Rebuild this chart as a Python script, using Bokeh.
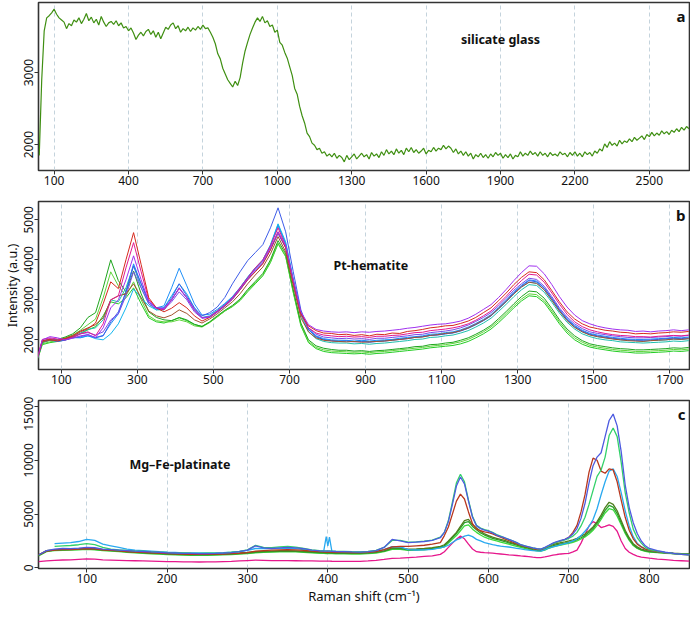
from bokeh.plotting import figure
from bokeh.models import Range1d, FixedTicker, Label
from bokeh.layouts import column
from bokeh.embed import file_html
from bokeh.resources import INLINE

FONT = "Noto Sans"
nan = float("nan")

# ---------------- panel a : silicate glass ----------------
A_X = list(range(40, 2670, 10))
A_Y = [1850, 2900, 3580, 3760, 3790, 3830, 3880, 3810, 3760, 3730,
       3700, 3610, 3680, 3650, 3730, 3700, 3760, 3680, 3740, 3820,
       3720, 3770, 3690, 3740, 3660, 3780, 3700, 3640, 3690, 3710,
       3670, 3720, 3650, 3690, 3620, 3640, 3580, 3620, 3550, 3460,
       3520, 3560, 3510, 3570, 3600, 3530, 3580, 3490, 3560, 3470,
       3550, 3630, 3600, 3660, 3690, 3610, 3650, 3560, 3610, 3580,
       3630, 3570, 3620, 3590, 3640, 3600, 3660, 3610, 3620, 3560,
       3490, 3400, 3260, 3190, 3060, 2980, 2900, 2850, 2800, 2880,
       2820, 2930, 3130, 3300, 3420, 3530, 3620, 3700, 3760, 3710,
       3780, 3690, 3720, 3640, 3660, 3560, 3590, 3420, 3380, 3280,
       3200, 3080, 2960, 2780, 2700, 2530, 2400, 2300, 2160, 2110,
       2020, 1990, 1930, 1950, 1880, 1900, 1840, 1870, 1830, 1880,
       1810, 1850, 1820, 1760, 1850, 1790, 1830, 1870, 1800, 1840,
       1880, 1830, 1860, 1800, 1890, 1840, 1870, 1820, 1900, 1850,
       1930, 1870, 1910, 1860, 1940, 1880, 1920, 1860, 1950, 1900,
       1960, 1890, 1930, 1880, 1910, 1950, 1870, 1920, 1900, 1960,
       1910, 1950, 1930, 1990, 1940, 1980, 1950, 1890, 1940, 1870,
       1910, 1850, 1900, 1840, 1880, 1800, 1860, 1830, 1880, 1820,
       1860, 1810, 1870, 1830, 1890, 1850, 1880, 1810, 1860, 1820,
       1870, 1800, 1850, 1830, 1900, 1840, 1880, 1850, 1910, 1860,
       1890, 1840, 1900, 1850, 1880, 1830, 1890, 1850, 1870, 1840,
       1900, 1860, 1880, 1830, 1890, 1850, 1900, 1840, 1880, 1830,
       1900, 1860, 1890, 1840, 1910, 1880, 1940, 1910, 2010, 1960,
       2040, 1990, 2020, 1980, 2060, 2010, 2050, 2030, 2080, 2040,
       2100, 2060, 2090, 2120, 2070, 2140, 2110, 2170, 2120, 2160,
       2130, 2190, 2150, 2180, 2140, 2200, 2170, 2220, 2180, 2240,
       2200, 2250, 2220]
A_XTICKS = [100, 400, 700, 1000, 1300, 1600, 1900, 2200, 2500]
A_YTICKS = [2000, 3000]

# ---------------- panel b : Pt-hematite ----------------
B_X = list(range(30, 1770, 20))
B_RED = [1300, 1980, 2010, 1970, 2030, 2090, 2200, 2280, 2420, 2900, 3450, 3280, 4000, 4680, 3880, 3050, 2800, 2700, 2790, 2930,
         2800, 2600, 2470, 2560, 2700, 2850, 3020, 3250, 3500, 3700, 3900, 4250, 4700, 4300, 3450, 2650, 2350, 2230, 2170, 2160,
         2130, 2140, 2110, 2130, 2100, 2140, 2130, 2170, 2160, 2210, 2230, 2260, 2300, 2320, 2350, 2360, 2410, 2470, 2560, 2680,
         2800, 2980, 3170, 3380, 3560, 3700, 3680, 3500, 3230, 2950, 2700, 2520, 2400, 2320, 2280, 2240, 2220, 2190, 2180, 2150,
         2160, 2150, 2170, 2180, 2200, 2190, 2210]
B_BROWN = [1300, 1950, 1990, 2000, 2040, 2110, 2220, 2300, 2380, 2550, 3000, 3100, 3150, 3400, 3050, 2720, 2600, 2550, 2620, 2750,
           2660, 2500, 2420, 2520, 2650, 2800, 2950, 3150, 3400, 3620, 3820, 4150, 4580, 4200, 3350, 2550, 2200, 2050, 1990, 1970,
           1960, 1950, 1960, 1940, 1950, 1960, 1970, 1990, 2010, 2030, 2060, 2070, 2110, 2130, 2160, 2180, 2230, 2300, 2390, 2490,
           2610, 2780, 2960, 3150, 3320, 3440, 3410, 3250, 2990, 2720, 2480, 2310, 2200, 2120, 2080, 2050, 2020, 2000, 1980, 1970,
           1960, 1980, 1990, 2000, 2020, 2010, 2030]
B_MAGENTA = [1300, 2010, 2050, 2020, 2000, 2060, 2150, 2200, 2100, 2400, 3000, 3100, 3800, 4430, 3700, 3000, 2800, 2750, 3000, 3280,
             3050, 2750, 2550, 2580, 2720, 2870, 3050, 3300, 3550, 3800, 4000, 4350, 4800, 4350, 3450, 2650, 2300, 2170, 2120, 2100,
             2080, 2090, 2070, 2080, 2060, 2090, 2090, 2110, 2120, 2150, 2180, 2190, 2230, 2250, 2270, 2300, 2340, 2400, 2490, 2600,
             2720, 2900, 3090, 3300, 3480, 3640, 3620, 3440, 3170, 2890, 2640, 2450, 2330, 2250, 2200, 2160, 2130, 2110, 2100, 2080,
             2080, 2070, 2090, 2100, 2110, 2100, 2120]
B_PURPLE = [1300, 2000, 2080, 2050, 2000, 2040, 2100, 2130, 2060, 2300, 2800, 3000, 3500, 4100, 3500, 2950, 2800, 2780, 3000, 3300,
            3050, 2750, 2550, 2570, 2700, 2860, 3030, 3270, 3520, 3760, 3950, 4300, 4700, 4350, 3500, 2700, 2380, 2260, 2220, 2200,
            2190, 2200, 2180, 2200, 2190, 2210, 2220, 2240, 2260, 2290, 2310, 2340, 2370, 2390, 2400, 2430, 2470, 2540, 2640, 2760,
            2880, 3060, 3260, 3480, 3680, 3850, 3840, 3650, 3380, 3080, 2820, 2620, 2480, 2400, 2340, 2300, 2270, 2250, 2240, 2210,
            2220, 2200, 2220, 2230, 2250, 2230, 2250]
B_VIOLET = [1300, 1970, 2030, 1990, 2020, 2080, 2150, 2180, 2120, 2200, 2500, 2650, 3100, 3700, 3300, 2900, 2780, 2760, 2950, 3200,
            3000, 2700, 2540, 2560, 2690, 2840, 3010, 3250, 3500, 3720, 3920, 4250, 4650, 4300, 3450, 2650, 2300, 2140, 2070, 2050,
            2030, 2040, 2020, 2030, 2010, 2040, 2040, 2060, 2080, 2100, 2130, 2140, 2180, 2200, 2220, 2250, 2300, 2370, 2460, 2560,
            2680, 2850, 3040, 3240, 3400, 3540, 3510, 3340, 3080, 2800, 2570, 2400, 2280, 2200, 2160, 2130, 2100, 2080, 2060, 2050,
            2050, 2060, 2070, 2080, 2100, 2090, 2110]
B_ROYAL = [1300, 1950, 2000, 1960, 1990, 2050, 2080, 2130, 2050, 2100, 2450, 2700, 3200, 3850, 3400, 2950, 2800, 2800, 3050, 3400,
           3100, 2800, 2600, 2680, 2820, 3060, 3400, 3700, 3980, 4180, 4380, 4800, 5300, 4700, 3700, 2750, 2250, 2080, 2000, 1980,
           1960, 1970, 1950, 1960, 1940, 1960, 1970, 1990, 2010, 2030, 2060, 2080, 2110, 2120, 2150, 2170, 2220, 2290, 2380, 2480,
           2600, 2780, 2970, 3170, 3340, 3480, 3450, 3290, 3030, 2750, 2510, 2340, 2220, 2140, 2100, 2070, 2040, 2020, 2000, 1990,
           1990, 2000, 2010, 2030, 2040, 2030, 2050]
B_DODGER = [1300, 1960, 2010, 1980, 2000, 2060, 2050, 2100, 2060, 2110, 2400, 2650, 3200, 3900, 3400, 2950, 2800, 2850, 3300, 3790,
            3350, 2900, 2620, 2640, 2760, 2910, 3080, 3310, 3560, 3790, 3990, 4350, 4850, 4400, 3500, 2680, 2270, 2100, 2030, 2000,
            1990, 1990, 1970, 1990, 1970, 1990, 2000, 2010, 2040, 2060, 2080, 2100, 2140, 2150, 2180, 2200, 2250, 2320, 2410, 2510,
            2630, 2810, 2990, 3200, 3360, 3500, 3470, 3300, 3040, 2760, 2530, 2360, 2240, 2160, 2120, 2090, 2060, 2040, 2020, 2010,
            2010, 2020, 2030, 2040, 2060, 2050, 2070]
B_SKY = [1300, 1960, 2020, 1990, 2010, 2050, 2060, 2100, 2030, 2000, 2150, 2400, 2800, 3270, 3050, 2850, 2750, 2800, 3100, 3400,
         3150, 2800, 2560, 2600, 2730, 2890, 3070, 3300, 3570, 3800, 4000, 4380, 4900, 4450, 3520, 2680, 2260, 2080, 2010, 1980,
         1970, 1980, 1960, 1970, 1950, 1970, 1980, 2000, 2020, 2040, 2070, 2080, 2110, 2130, 2150, 2180, 2230, 2290, 2380, 2480,
         2600, 2770, 2950, 3150, 3320, 3440, 3420, 3250, 2990, 2720, 2490, 2320, 2200, 2130, 2080, 2050, 2030, 2000, 1990, 1980,
         1970, 1980, 1990, 2000, 2020, 2010, 2030]
B_TURQ = [1300, 1940, 1990, 1960, 2010, 2080, 2170, 2260, 2300, 2500, 3000, 2950, 3300, 3850, 3300, 2900, 2750, 2750, 3000, 3300,
          3050, 2750, 2550, 2590, 2720, 2880, 3050, 3280, 3540, 3780, 3980, 4350, 4880, 4400, 3450, 2620, 2200, 2030, 1960, 1930,
          1920, 1920, 1900, 1910, 1890, 1910, 1920, 1940, 1960, 1980, 2010, 2020, 2060, 2070, 2100, 2120, 2170, 2230, 2320, 2420,
          2540, 2710, 2890, 3080, 3250, 3380, 3360, 3190, 2940, 2670, 2440, 2270, 2150, 2080, 2030, 2000, 1980, 1950, 1940, 1930,
          1920, 1930, 1940, 1950, 1970, 1960, 1980]
B_GREEN = [1300, 1930, 1990, 2010, 2070, 2150, 2300, 2560, 2680, 3300, 4000, 3480, 3200, 3720, 3150, 2700, 2560, 2500, 2480, 2560,
           2500, 2390, 2330, 2450, 2600, 2740, 2860, 3020, 3260, 3460, 3660, 4000, 4480, 4150, 3250, 2420, 2000, 1850, 1790, 1760,
           1740, 1740, 1720, 1730, 1710, 1730, 1740, 1760, 1780, 1800, 1830, 1840, 1880, 1890, 1920, 1940, 1990, 2050, 2140, 2240,
           2360, 2530, 2710, 2900, 3080, 3220, 3200, 3040, 2780, 2500, 2270, 2100, 1980, 1900, 1860, 1830, 1800, 1780, 1770, 1750,
           1750, 1760, 1770, 1780, 1800, 1790, 1810]
B_LIME = [1300, 1900, 1950, 1980, 2050, 2120, 2240, 2380, 2520, 3050, 3700, 3350, 3100, 3450, 3000, 2600, 2480, 2450, 2450, 2500,
          2450, 2350, 2320, 2430, 2570, 2720, 2840, 3000, 3230, 3430, 3630, 3960, 4420, 4100, 3200, 2380, 1960, 1810, 1750, 1720,
          1710, 1700, 1690, 1700, 1680, 1700, 1710, 1730, 1750, 1770, 1790, 1810, 1840, 1860, 1880, 1910, 1950, 2010, 2100, 2200,
          2320, 2480, 2660, 2850, 3020, 3150, 3130, 2980, 2720, 2450, 2220, 2050, 1940, 1860, 1820, 1790, 1760, 1740, 1730, 1710,
          1710, 1720, 1730, 1740, 1760, 1750, 1770]
B_GREEN3 = [1300, 1880, 1930, 1960, 2000, 2060, 2150, 2250, 2330, 2600, 2950, 2900, 3050, 3300, 2900, 2550, 2450, 2420, 2480, 2550,
            2480, 2380, 2340, 2440, 2580, 2720, 2830, 2980, 3200, 3400, 3600, 3930, 4400, 4080, 3180, 2350, 1930, 1780, 1710, 1680,
            1670, 1660, 1650, 1660, 1640, 1660, 1670, 1690, 1710, 1730, 1750, 1770, 1800, 1820, 1840, 1860, 1900, 1960, 2050, 2150,
            2270, 2430, 2610, 2800, 2970, 3100, 3080, 2930, 2670, 2400, 2170, 2000, 1890, 1820, 1780, 1750, 1720, 1700, 1690, 1670,
            1670, 1680, 1690, 1700, 1720, 1710, 1730]
B_XTICKS = [100, 300, 500, 700, 900, 1100, 1300, 1500, 1700]
B_YTICKS = [2000, 3000, 4000, 5000]

# ---------------- panel c : Mg-Fe-platinate ----------------
C_X = (list(range(40, 400, 10)) + [395, 398, 400, 402, 405] + list(range(410, 550, 10))
       + list(range(545, 805, 5)) + list(range(810, 860, 10)))
C_BLUE = ([1200, 1600, 1750, 1800, 1780, 1830, 1900, 1870, 1750, 1700, 1650, 1600, 1550, 1520, 1480, 1450, 1400, 1380,
           1350, 1340, 1320, 1330, 1350, 1380, 1420, 1500, 1650, 2050, 1850, 1800, 1850, 1900, 1850, 1780, 1650, 1580]
          + [1560, 1550, 1550, 1550, 1540]
          + [1520, 1500, 1480, 1470, 1500, 1600, 1900, 2650, 2500, 2350, 2400, 2450, 2550, 2800]
          + [3300, 4300, 5900, 7600, 8450, 7800, 6200, 4700, 3900, 3650, 3500, 3420, 3250, 3050, 2900, 2800, 2650, 2500,
             2350, 2150, 2050, 1950, 1850, 1780, 1750, 1900, 2100, 2300, 2450, 2550, 2650, 2850, 3150, 3650, 4600, 6000,
             7900, 9500, 10300, 10700, 12200, 13700, 14300, 13200, 10800, 7700, 5600, 4200, 3200, 2500, 2050, 1800]
          + [1600, 1450, 1350, 1250, 1200])
C_SPRING = ([nan, nan, 2000, 2050, 2080, 2150, 2250, 2150, 1900, 1750, 1680, 1620, 1580, 1550, 1500, 1470, 1430, 1400,
             1380, 1360, 1350, 1360, 1370, 1400, 1450, 1520, 1680, 2100, 1900, 1880, 1950, 2000, 1920, 1800, 1680, 1600]
            + [1580, 1570, 1570, 1570, 1560]
            + [1540, 1520, 1500, 1490, 1520, 1620, 1900, 2550, 2550, 2380, 2420, 2480, 2580, 2850]
            + [3300, 4400, 6100, 7900, 8700, 8000, 6300, 4800, 3950, 3700, 3550, 3450, 3300, 3100, 2950, 2800, 2650, 2500,
               2350, 2150, 2050, 1950, 1850, 1780, 1740, 1850, 2050, 2250, 2400, 2500, 2600, 2750, 2950, 3300, 3900, 4700,
               5900, 7200, 8500, 9100, 10300, 12300, 13000, 12200, 9800, 7000, 5100, 3600, 2800, 2300, 1900, 1700]
            + [1550, 1420, 1330, 1260, 1220])
C_BROWN = ([1200, 1550, 1650, 1700, 1700, 1740, 1800, 1760, 1680, 1620, 1580, 1520, 1470, 1430, 1400, 1370, 1330, 1300,
            1280, 1260, 1250, 1260, 1270, 1290, 1320, 1360, 1420, 1550, 1600, 1650, 1680, 1700, 1680, 1620, 1550, 1500]
           + [1480, 1470, 1470, 1470, 1460]
           + [1450, 1430, 1420, 1420, 1450, 1520, 1700, 1950, 2000, 2000, 2050, 2100, 2200, 2350]
           + [3000, 3800, 5000, 6200, 6850, 6400, 5200, 4100, 3600, 3450, 3350, 3280, 3150, 3000, 2850, 2700, 2550, 2400,
              2250, 2100, 2000, 1900, 1800, 1750, 1720, 1850, 2050, 2250, 2400, 2500, 2650, 2850, 3300, 3950, 5200, 6800,
              8900, 10200, 10000, 9000, 8800, 9200, 9100, 8000, 6300, 4700, 3500, 2700, 2200, 1950, 1750, 1650]
           + [1500, 1400, 1320, 1250, 1200])
C_SKY = ([nan, nan, 2250, 2300, 2350, 2450, 2650, 2550, 2200, 2050, 1900, 1750, 1650, 1600, 1550, 1500, 1460, 1430,
          1400, 1390, 1380, 1390, 1400, 1420, 1460, 1520, 1620, 1800, 1780, 1800, 1820, 1830, 1780, 1700, 1620, 1560]
         + [1600, 2900, 2050, 2850, 1560]
         + [1520, 1480, 1460, 1450, 1470, 1530, 1700, 1980, 1950, 1700, 1660, 1680, 1720, 1850]
         + [1950, 2100, 2350, 2600, 2750, 2950, 3050, 2900, 2650, 2500, 2350, 2250, 2150, 2080, 2020, 1980, 1940, 1880,
            1820, 1760, 1700, 1650, 1600, 1570, 1560, 1700, 1850, 1950, 2050, 2150, 2250, 2350, 2500, 2700, 3000, 3400,
            3850, 4500, 5500, 6800, 8000, 9000, 9200, 8500, 7000, 5300, 3900, 2900, 2300, 1950, 1750, 1640]
         + [1500, 1400, 1330, 1270, 1230])
C_OLIVE = ([1200, 1600, 1700, 1720, 1730, 1760, 1820, 1780, 1700, 1650, 1600, 1540, 1490, 1450, 1410, 1380, 1340, 1310,
            1290, 1270, 1260, 1270, 1290, 1310, 1340, 1380, 1430, 1500, 1530, 1560, 1590, 1600, 1580, 1540, 1500, 1460]
           + [1440, 1430, 1430, 1430, 1420]
           + [1410, 1400, 1390, 1390, 1420, 1480, 1600, 1850, 1850, 1750, 1760, 1800, 1880, 2000]
           + [2150, 2500, 2900, 3300, 3850, 4400, 4500, 4000, 3700, 3400, 3150, 3000, 2850, 2750, 2650, 2550, 2420, 2300,
              2200, 2080, 1980, 1880, 1780, 1700, 1660, 1800, 2000, 2150, 2250, 2350, 2420, 2500, 2600, 2750, 2950, 3150,
              3450, 3800, 4300, 4900, 5600, 6100, 5900, 5300, 4400, 3500, 2800, 2250, 1950, 1750, 1640, 1560]
           + [1480, 1420, 1370, 1330, 1300])
C_GREEN = ([1150, 1550, 1650, 1680, 1690, 1720, 1770, 1730, 1650, 1600, 1550, 1490, 1440, 1400, 1360, 1330, 1290, 1260,
            1240, 1220, 1210, 1220, 1240, 1260, 1290, 1330, 1380, 1450, 1480, 1510, 1540, 1550, 1530, 1490, 1450, 1410]
           + [1390, 1380, 1380, 1380, 1370]
           + [1360, 1350, 1340, 1340, 1370, 1430, 1550, 1780, 1780, 1680, 1700, 1740, 1820, 1930]
           + [2050, 2400, 2800, 3200, 3700, 4200, 4300, 3850, 3550, 3250, 3050, 2900, 2750, 2650, 2550, 2450, 2330, 2220,
              2120, 2000, 1900, 1800, 1700, 1630, 1600, 1720, 1900, 2050, 2150, 2230, 2300, 2380, 2480, 2620, 2800, 3000,
              3300, 3650, 4150, 4700, 5350, 5800, 5650, 5050, 4200, 3350, 2650, 2150, 1850, 1680, 1580, 1500]
           + [1440, 1390, 1340, 1300, 1270])
C_LIME = ([1100, 1500, 1600, 1630, 1640, 1670, 1720, 1680, 1600, 1550, 1500, 1440, 1390, 1350, 1310, 1280, 1240, 1210,
           1190, 1170, 1160, 1170, 1190, 1210, 1240, 1280, 1330, 1400, 1430, 1460, 1490, 1500, 1480, 1440, 1400, 1360]
          + [1340, 1330, 1330, 1330, 1320]
          + [1310, 1300, 1290, 1290, 1320, 1380, 1500, 1720, 1720, 1620, 1640, 1680, 1760, 1860]
          + [1950, 2300, 2650, 3000, 3450, 3900, 4000, 3600, 3300, 3050, 2850, 2720, 2600, 2500, 2400, 2300, 2200, 2100,
             2000, 1900, 1800, 1720, 1640, 1580, 1550, 1650, 1820, 1950, 2050, 2120, 2200, 2280, 2380, 2500, 2680, 2880,
             3150, 3500, 3950, 4500, 5100, 5500, 5400, 4800, 4000, 3200, 2550, 2080, 1800, 1640, 1540, 1470]
          + [1410, 1360, 1320, 1280, 1250])
C_MAGENTA = ([580, 650, 700, 730, 750, 790, 830, 810, 740, 720, 700, 680, 660, 640, 620, 600, 580, 570,
              560, 550, 545, 550, 560, 580, 600, 640, 680, 720, 700, 680, 670, 670, 660, 650, 640, 630]
             + [625, 620, 620, 620, 615]
             + [610, 600, 600, 610, 640, 700, 780, 880, 900, 950, 1000, 1060, 1120, 1250]
             + [1500, 1900, 2300, 2650, 2950, 2700, 2200, 1750, 1500, 1450, 1420, 1400, 1370, 1330, 1290, 1250, 1210, 1180,
                1150, 1110, 1080, 1050, 1000, 960, 950, 1020, 1100, 1180, 1240, 1290, 1320, 1350, 1480, 1650, 2300, 3100,
                3900, 4300, 4100, 3750, 3850, 4000, 3850, 3400, 2500, 1800, 1450, 1250, 1100, 1000, 950, 900]
             + [820, 760, 700, 660, 620])
C_XTICKS = [100, 200, 300, 400, 500, 600, 700, 800]
C_YTICKS = [0, 5000, 10000, 15000]

LEFT = 36


def make_panel(xr, yr, xt, yt, height, top, bottom):
    p = figure(width=690, height=height, x_range=Range1d(*xr), y_range=Range1d(*yr),
               output_backend="svg", toolbar_location=None,
               min_border_left=LEFT, min_border_right=1,
               min_border_top=top, min_border_bottom=bottom)
    p.background_fill_color = "white"
    p.border_fill_color = "white"
    p.outline_line_color = "#333333"
    p.outline_line_width = 1.6
    p.xaxis.ticker = FixedTicker(ticks=xt, minor_ticks=[])
    p.yaxis.ticker = FixedTicker(ticks=yt, minor_ticks=[])
    for ax in (p.xaxis[0], p.yaxis[0]):
        ax.axis_line_color = None
        ax.major_tick_out = 4
        ax.major_tick_in = 0
        ax.major_tick_line_color = "#333333"
        ax.minor_tick_line_color = None
        ax.major_label_text_font = FONT
        ax.major_label_text_font_size = "12px"
        ax.major_label_text_color = "#111111"
        ax.major_label_standoff = 1
    p.yaxis.major_label_orientation = "vertical"
    p.xgrid.grid_line_color = "#c4d3dc"
    p.xgrid.grid_line_dash = "4 3"
    p.xgrid.grid_line_width = 1
    p.ygrid.grid_line_color = None
    return p


def note(p, x, y, txt):
    p.add_layout(Label(x=x, y=y, text=txt, text_font=FONT, text_font_size="12.5px",
                       text_font_style="bold", text_color="#111111",
                       text_align="center", text_baseline="middle"))


def tag(p, xr, yr, txt):
    p.add_layout(Label(x=xr[1], y=yr[1], x_offset=-4, y_offset=-3, text=txt, text_font=FONT,
                       text_font_size="15px", text_font_style="bold", text_color="#111111",
                       text_align="right", text_baseline="top"))


# panel a
AXR, AYR = (37, 2662), (1640, 3973)
pa = make_panel(AXR, AYR, A_XTICKS, A_YTICKS, 197, 2, 27)
pa.line(A_X, A_Y, line_color="#3f8f12", line_width=1.2)
note(pa, 1900, 3460, "silicate glass")
tag(pa, AXR, AYR, "a")

# panel b
BXR, BYR = (40, 1752), (1259, 5458)
pb = make_panel(BXR, BYR, B_XTICKS, B_YTICKS, 199, 4, 27)
b_series = [(B_GREEN3, "#22cc22"), (B_LIME, "#5fd43a"), (B_GREEN, "#1ea51e"), (B_TURQ, "#1fbfae"),
            (B_SKY, "#12b5ee"), (B_DODGER, "#1e8ff8"), (B_ROYAL, "#3d5ce8"), (B_VIOLET, "#7a4ae8"),
            (B_BROWN, "#a0522d"), (B_MAGENTA, "#e2198f"), (B_RED, "#d62a1e"), (B_PURPLE, "#a030ef")]
for ys, col in b_series:
    pb.line(B_X, ys, line_color=col, line_width=1.0)
note(pb, 914, 3860, "Pt-hematite")
tag(pb, BXR, BYR, "b")
pb.yaxis.axis_label = "Intensity (a.u.)"
pb.yaxis.axis_label_text_font = FONT
pb.yaxis.axis_label_text_font_size = "12.5px"
pb.yaxis.axis_label_text_font_style = "normal"
pb.yaxis.axis_label_text_color = "#111111"
pb.yaxis.axis_label_standoff = 1

# panel c
CXR, CYR = (40, 850), (-60, 15560)
pc = make_panel(CXR, CYR, C_XTICKS, C_YTICKS, 212, 4, 40)
c_series = [(C_MAGENTA, "#e6178c"), (C_LIME, "#3ddc3d"), (C_GREEN, "#2aa02a"), (C_OLIVE, "#4f7f1f"),
            (C_SKY, "#29a9f0"), (C_BROWN, "#b8371e"), (C_SPRING, "#33d16a"), (C_BLUE, "#4d5be0")]
for ys, col in c_series:
    pc.line(C_X, ys, line_color=col, line_width=1.3)
note(pc, 216, 9580, "Mg\u2013Fe-platinate")
tag(pc, CXR, CYR, "c")
pc.xaxis.axis_label = "Raman shift (cm\u207b\u00b9)"
pc.xaxis.axis_label_text_font = FONT
pc.xaxis.axis_label_text_font_size = "13px"
pc.xaxis.axis_label_text_font_style = "normal"
pc.xaxis.axis_label_text_color = "#111111"
pc.xaxis.axis_label_standoff = 1

layout = column(pa, pb, pc)
open("out.html", "w").write(file_html(layout, INLINE))
